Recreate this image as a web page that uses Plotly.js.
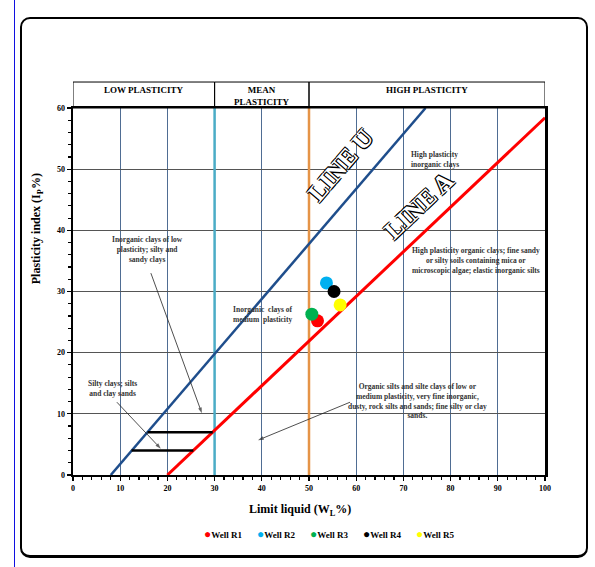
<!DOCTYPE html>
<html>
<head>
<meta charset="utf-8">
<script src="https://cdn.plot.ly/plotly-3.0.1.min.js"></script>
<style>
  html, body { margin:0; padding:0; background:#fff; }
  #wrap { position:relative; width:595px; height:567px; overflow:hidden; }
  #frame { position:absolute; left:20px; top:17px; width:564px; height:536px;
           border:2px solid #000; border-bottom-width:3px; border-right-width:2.5px; border-radius:10px; z-index:0; }
  #bar { position:absolute; left:14px; top:0; width:1.3px; height:567px; background:#1010e0; z-index:0; }
  #chart { position:absolute; left:0; top:0; width:595px; height:567px; z-index:1; }
</style>
</head>
<body>
<div id="wrap">
  <div id="bar"></div>
  <div id="frame"></div>
  <div id="chart"></div>
</div>
<script>
// ---- data ----
const wellNames  = ['Well R1', 'Well R2', 'Well R3', 'Well R4', 'Well R5'];
const wellColors = ['#ff0000', '#00b0f0', '#00b050', '#000000', '#ffff00'];
const wellLL     = [51.8, 53.7, 50.6, 55.3, 56.6];
const wellPI     = [25.2, 31.4, 26.3, 30.0, 27.8];

const lineU_LL = [8, 74.7];
const lineU_PI = [0, 60];
const lineA_LL = [20, 100];
const lineA_PI = [0, 58.4];

const boundaryLL     = [30, 50];
const boundaryColors = ['#4bacc6', '#e59447'];

const hatchPI     = [7, 4];
const hatchLLfrom = [15.8, 12.4];
const hatchLLto   = [29.6, 25.5];

// pointer arrows: tail -> head (LL, PI)
const arrowTailLL = [16.5, 9.3, 58.7];
const arrowTailPI = [33.0, 11.9, 11.9];
const arrowHeadLL = [27.3, 18.6, 39.2];
const arrowHeadPI = [10.1, 4.3, 5.7];

const headerLabels = ['LOW PLASTICITY', 'MEAN<br>PLASTICITY', 'HIGH PLASTICITY'];
const headerBounds = [0, 30, 50, 100];

const xTickVals = [0, 10, 20, 30, 40, 50, 60, 70, 80, 90, 100];
const yTickVals = [0, 10, 20, 30, 40, 50, 60];

// ---- styling ----
const SERIF = 'Liberation Serif, Times New Roman, serif';
const small = {family: SERIF, size: 7.5, color: '#333', weight: 700};

const traces = [];
boundaryLL.forEach((v, i) => traces.push({
  x: [v, v], y: [yTickVals[0], yTickVals[yTickVals.length - 1]], mode: 'lines',
  line: {color: boundaryColors[i], width: 2.5}, showlegend: false, hoverinfo: 'skip'
}));
traces.push({x: lineU_LL, y: lineU_PI, mode: 'lines', line: {color: '#1f4e8c', width: 2.5}, showlegend: false, hoverinfo: 'skip'});
traces.push({x: lineA_LL, y: lineA_PI, mode: 'lines', line: {color: '#ff0000', width: 3}, showlegend: false, hoverinfo: 'skip'});
hatchPI.forEach((p, i) => traces.push({
  x: [hatchLLfrom[i], hatchLLto[i]], y: [p, p], mode: 'lines',
  line: {color: '#000', width: 2.5}, showlegend: false, hoverinfo: 'skip'
}));
arrowTailLL.forEach((t, i) => traces.push({
  x: [t, arrowHeadLL[i]], y: [arrowTailPI[i], arrowHeadPI[i]], mode: 'lines+markers',
  line: {color: '#222', width: 0.8},
  marker: {symbol: ['circle', 'arrow'], size: [0, 6], angleref: 'previous', color: '#222', line: {width: 0}},
  showlegend: false, hoverinfo: 'skip'
}));
wellNames.forEach((n, i) => traces.push({
  x: [wellLL[i]], y: [wellPI[i]], mode: 'markers', name: n,
  marker: {color: wellColors[i], size: 13}, showlegend: false, cliponaxis: false
}));

const shapes = [];
for (let i = 0; i < headerLabels.length; i++) {
  shapes.push({type: 'rect', xref: 'x', yref: 'paper', x0: headerBounds[i], x1: headerBounds[i + 1],
    y0: 1, y1: 1.0708, line: {color: '#000', width: 1}});
}

const annotations = [];
headerLabels.forEach((t, i) => annotations.push({
  text: t, xref: 'x', yref: 'paper', x: (headerBounds[i] + headerBounds[i + 1]) / 2, y: 1.068,
  yanchor: 'top', showarrow: false, font: {family: SERIF, size: 9, color: '#000', weight: 700}
}));

// region descriptions
annotations.push({text: 'Inorganic clays of low<br>plasticity; silty and<br>sandy clays', x: 15.8, y: 36.8, showarrow: false, font: small});
annotations.push({text: 'Silty clays; silts<br>and clay sands', x: 8.3, y: 14.1, showarrow: false, font: small});
annotations.push({text: 'Inorganic  clays of<br>medium  plasticity', x: 40.2, y: 26.2, showarrow: false, font: small});
annotations.push({text: 'High plasticity<br>inorganic clays', x: 71.2, y: 51.5, xanchor: 'left', align: 'left', showarrow: false, font: small});
annotations.push({text: 'High plasticity organic clays; fine sandy<br>or silty soils containing mica or<br>microscopic algae; elastic inorganic silts', x: 85.4, y: 35.1, showarrow: false, font: small});
annotations.push({text: 'Organic silts and silte clays of low or<br>medium plasticity, very fine inorganic,<br>dusty, rock silts and sands; fine silty or clay<br>sands.', x: 72.9, y: 12.1, showarrow: false, font: small});

// line labels (outlined)
const outline = '-1px -1px 0 #000, 1px -1px 0 #000, -1px 1px 0 #000, 1px 1px 0 #000';
annotations.push({text: 'LINE U', x: 56.6, y: 50.6, textangle: -49.4, showarrow: false,
  font: {family: SERIF, size: 25, color: '#fff', weight: 700, shadow: outline}});
annotations.push({text: 'LINE A', x: 73.3, y: 44.0, textangle: -43.4, showarrow: false,
  font: {family: SERIF, size: 25, color: '#fff', weight: 700, shadow: outline}});

// axis titles
annotations.push({text: 'Plasticity index (I<sub>P</sub>%)', xref: 'paper', yref: 'paper', x: -0.076, y: 0.67,
  xanchor: 'center', yanchor: 'middle',
  textangle: -90, showarrow: false, font: {family: SERIF, size: 12, color: '#000', weight: 700}});
annotations.push({text: 'Limit liquid (W<sub>L</sub>%)', xref: 'paper', yref: 'paper', x: 0.481, y: -0.095,
  xanchor: 'center', yanchor: 'middle',
  showarrow: false, font: {family: SERIF, size: 12, color: '#000', weight: 700}});

// legend (built from the series arrays)
wellNames.forEach((n, i) => annotations.push({
  text: '<span style="color:' + wellColors[i] + ';font-size:12px">\u25CF</span>' + n,
  xref: 'paper', yref: 'paper', x: (202 + i * 53 - 73) / 472, y: -0.16, xanchor: 'left', yanchor: 'middle',
  showarrow: false, font: {family: SERIF, size: 9, color: '#000', weight: 700}
}));

const layout = {
  width: 595, height: 567,
  margin: {l: 73, r: 50, t: 108, b: 92, pad: 0},
  paper_bgcolor: 'rgba(0,0,0,0)', plot_bgcolor: '#fff',
  showlegend: false,
  xaxis: {range: [0, 100], tickvals: xTickVals, ticks: 'outside', ticklen: 4, tickwidth: 1.2, tickcolor: '#000',
    showline: true, linecolor: '#000', linewidth: 2, mirror: true, zeroline: false,
    showgrid: true, gridcolor: '#4f6d93', gridwidth: 1.2,
    minor: {dtick: 2, ticks: 'outside', ticklen: 3, tickcolor: '#000', showgrid: false},
    tickfont: {family: SERIF, size: 8, color: '#000', weight: 700}, fixedrange: true},
  yaxis: {range: [0, 60], tickvals: yTickVals, ticks: 'outside', ticklen: 4, tickwidth: 1.2, tickcolor: '#000',
    showline: true, linecolor: '#000', linewidth: 2.5, mirror: true, zeroline: false,
    showgrid: true, gridcolor: '#555', gridwidth: 1.2,
    minor: {dtick: 2, ticks: 'outside', ticklen: 3, tickcolor: '#000', showgrid: false},
    tickfont: {family: SERIF, size: 8, color: '#000', weight: 700}, fixedrange: true},
  shapes: shapes,
  annotations: annotations
};

Plotly.newPlot('chart', traces, layout, {displayModeBar: false, staticPlot: true});
</script>
</body>
</html>
